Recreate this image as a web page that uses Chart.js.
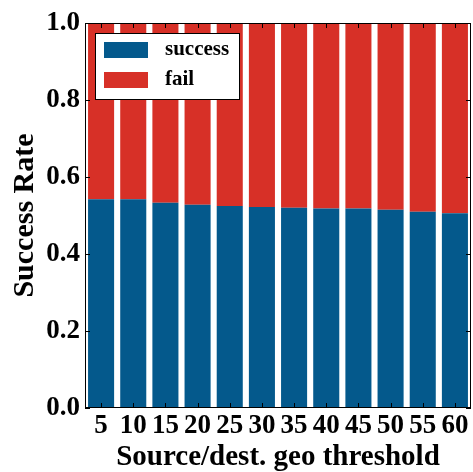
<!DOCTYPE html>
<html>
<head>
<meta charset="utf-8">
<script src="https://cdn.jsdelivr.net/npm/chart.js@4/dist/chart.umd.min.js"></script>
<style>
  html, body { margin: 0; padding: 0; background: #fff; }
  #wrap { width: 473px; height: 472px; }
</style>
</head>
<body>
<div id="wrap"><canvas id="rateChart" width="473" height="472"></canvas></div>
<script>
// data
const thresholds = ['5', '10', '15', '20', '25', '30', '35', '40', '45', '50', '55', '60'];
const successRate = [0.542, 0.542, 0.533, 0.528, 0.525, 0.522, 0.520, 0.518, 0.518, 0.515, 0.510, 0.506];
const failRate = successRate.map(v => 1 - v);
const yTicks = [0, 0.2, 0.4, 0.6, 0.8, 1.0];

const BLUE = '#04598c';
const RED = '#d73027';
const FONT = 'Liberation Serif';

// frame, inward ticks and the legend box
const framePlugin = {
  id: 'frame',
  afterDraw(chart) {
    const { ctx, chartArea: a, scales } = chart;
    ctx.save();
    ctx.strokeStyle = '#000';
    ctx.lineWidth = 1;
    ctx.strokeRect(a.left + 0.5, a.top + 0.5, a.right - a.left - 1, a.bottom - a.top - 1);
    ctx.beginPath();
    thresholds.forEach((t, i) => {
      const x = Math.round(scales.x.getPixelForValue(i)) + 0.5;
      ctx.moveTo(x, a.bottom); ctx.lineTo(x, a.bottom - 5);
      ctx.moveTo(x, a.top); ctx.lineTo(x, a.top + 5);
    });
    yTicks.forEach(v => {
      const y = Math.round(scales.y.getPixelForValue(v)) + 0.5;
      ctx.moveTo(a.left, y); ctx.lineTo(a.left + 5, y);
      ctx.moveTo(a.right, y); ctx.lineTo(a.right - 5, y);
    });
    ctx.stroke();

    // legend
    const bx = a.left + 10, by = a.top + 10;
    ctx.fillStyle = '#fff';
    ctx.fillRect(bx, by, 144, 66);
    ctx.strokeRect(bx + 0.5, by + 0.5, 144, 66);
    ctx.font = 'bold 21px "' + FONT + '"';
    ctx.textBaseline = 'middle';
    chart.data.datasets.forEach((ds, i) => {
      const y = by + 9 + i * 30;
      ctx.fillStyle = ds.backgroundColor;
      ctx.fillRect(bx + 9, y, 44, 16);
      ctx.fillStyle = '#000';
      ctx.fillText(ds.label, bx + 70, y + 8);
    });
    ctx.restore();
  }
};

const ctx = document.getElementById('rateChart').getContext('2d');
const rateChart = new Chart(ctx, {
  type: 'bar',
  data: {
    labels: thresholds,
    datasets: [
      { label: 'success', data: successRate, backgroundColor: BLUE },
      { label: 'fail', data: failRate, backgroundColor: RED }
    ]
  },
  options: {
    responsive: false,
    animation: false,
    layout: { padding: { top: 23, right: 2, left: 0, bottom: 0 } },
    datasets: { bar: { categoryPercentage: 1.0, barPercentage: 0.81 } },
    plugins: { legend: { display: false }, tooltip: { enabled: false } },
    scales: {
      x: {
        stacked: true,
        grid: { display: false, drawTicks: false },
        border: { display: false },
        ticks: { color: '#000', padding: 2, maxRotation: 0, autoSkip: false,
                 font: { family: FONT, size: 27, weight: 'bold' } },
        title: { display: true, text: 'Source/dest. geo threshold', color: '#000',
                 font: { family: FONT, size: 29, weight: 'bold', lineHeight: 1 },
                 padding: { top: 1, bottom: 0 } },
        afterFit(s) { s.height = 64; }
      },
      y: {
        stacked: true,
        min: 0,
        max: 1,
        grid: { display: false, drawTicks: false },
        border: { display: false },
        ticks: { color: '#000', padding: 5, stepSize: 0.2,
                 callback: v => v.toFixed(1),
                 font: { family: FONT, size: 27, weight: 'bold' } },
        title: { display: true, text: 'Success Rate', color: '#000',
                 font: { family: FONT, size: 30, weight: 'bold', lineHeight: 1 },
                 padding: { top: 10, bottom: 0 } },
        afterFit(s) { s.width = 85; }
      }
    }
  },
  plugins: [framePlugin]
});
</script>
</body>
</html>
